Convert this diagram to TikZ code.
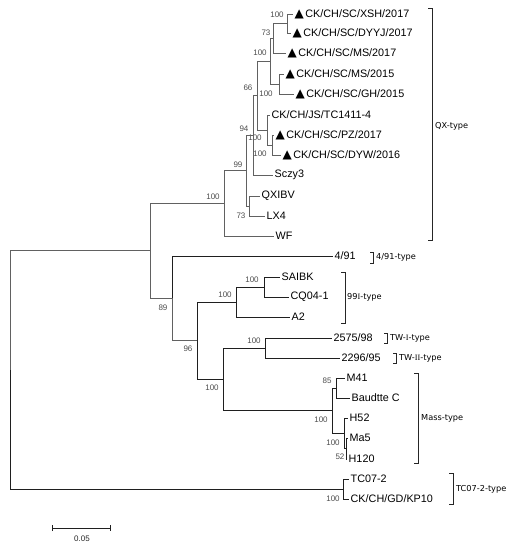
\documentclass[tikz,border=0pt]{standalone}
\usepackage{fontspec}
\setmainfont{Liberation Sans}
\newfontfamily\symfont{DejaVu Sans}
\newfontfamily\romfont{Liberation Serif}
\usetikzlibrary{arrows.meta}
\newcommand{\tri}{{\symfont\fontsize{12}{12}\selectfont ▲}\hspace{1.5pt}}
\tikzset{
  leaf/.style={anchor=west,inner sep=1.5pt,font=\fontsize{10.8}{12}\selectfont},
  boot/.style={inner sep=0pt,text=black!70,font=\fontsize{8}{9}\selectfont},
  clade/.style={anchor=west,inner sep=0pt,font=\symfont\fontsize{8.2}{9}\selectfont},
  lite/.style={draw=black!62,line width=1pt},
  dark/.style={draw=black!88,line width=1pt},
  bracket/.style={draw=black!85,line width=1pt},
}
\begin{document}
\begin{tikzpicture}[x=1pt,y=-1pt]
  \useasboundingbox (0,0) rectangle (514,550);
  \draw
    (293,14) node[leaf] (xsh){\tri CK/CH/SC/XSH/2017}
    (291,33) node[leaf] (dyyj){\tri CK/CH/SC/DYYJ/2017}
    (286,53) node[leaf] (ms17){\tri CK/CH/SC/MS/2017}
    (284,74) node[leaf] (ms15){\tri CK/CH/SC/MS/2015}
    (294,94) node[leaf] (gh15){\tri CK/CH/SC/GH/2015}
    (270,115) node[leaf] (tc1411){CK/CH/JS/TC1411-4}
    (274,135) node[leaf] (pz){\tri CK/CH/SC/PZ/2017}
    (281,155) node[leaf] (dyw){\tri CK/CH/SC/DYW/2016}
    (273,175) node[leaf] (sczy){Sczy3}
    (260,196) node[leaf] (qxibv){QXIBV}
    (265,216) node[leaf] (lx4){LX4}
    (274,236) node[leaf] (wf){WF}
    (333,256) node[leaf] (f491){4/91}
    (280,277) node[leaf] (saibk){SAIBK}
    (289,297) node[leaf] (cq){CQ04-1}
    (290,317) node[leaf] (a2){A2}
    (332,338) node[leaf] (t2575){2575/98}
    (340,358) node[leaf] (t2296){2296/95}
    (345,378) node[leaf] (m41){M41}
    (350,398) node[leaf] (baud){Baudtte C}
    (348,418) node[leaf] (h52){H52}
    (348,438) node[leaf] (ma5){Ma5}
    (347,459) node[leaf] (h120){H120}
    (349,479) node[leaf] (tc07){TC07-2}
    (349,499) node[leaf] (kp10){CK/CH/GD/KP10};
  \path
    (287,23.5) coordinate (a)
    (273,38.25) coordinate (b)
    (270,61.1) coordinate (c)
    (279,84) coordinate (d)
    (257,95.5) coordinate (e)
    (267,130) coordinate (f)
    (272,145) coordinate (g)
    (253,135.25) coordinate (h)
    (246,170.5) coordinate (i)
    (249,206) coordinate (j)
    (224,203) coordinate (k)
    (150,250.5) coordinate (l)
    (172,298) coordinate (m)
    (197,340.5) coordinate (n)
    (236,302) coordinate (o)
    (223,379) coordinate (p)
    (264,287) coordinate (q)
    (265,348) coordinate (r)
    (332,410.5) coordinate (s)
    (336,388) coordinate (t)
    (344,433) coordinate (u)
    (346,448.5) coordinate (v)
    (343,489) coordinate (w)
    (10,370) coordinate (root);
  \path
    (277,15) node[boot] (bs1){100}
    (266,33) node[boot] (bs2){73}
    (260,53) node[boot] (bs3){100}
    (266,94) node[boot] (bs4){100}
    (248,88) node[boot] (bs5){66}
    (244,129) node[boot] (bs6){94}
    (255,138) node[boot] (bs7){100}
    (260,154) node[boot] (bs8){100}
    (238,165) node[boot] (bs9){99}
    (213,197) node[boot] (bs10){100}
    (241,216) node[boot] (bs11){73}
    (163,308) node[boot] (bs12){89}
    (252,280) node[boot] (bs13){100}
    (225,295) node[boot] (bs14){100}
    (188,349) node[boot] (bs15){96}
    (212,388) node[boot] (bs16){100}
    (254,341) node[boot] (bs17){100}
    (327,381) node[boot] (bs18){85}
    (321,420) node[boot] (bs19){100}
    (333,443) node[boot] (bs20){100}
    (340,457) node[boot] (bs21){52}
    (333,499) node[boot] (bs22){100};
  \begin{scope}[lite]
    \draw (a) |- (xsh);
    \draw (a) |- (dyyj);
    \draw (b) |- (a);
    \draw (b) |- (ms17);
    \draw (d) |- (ms15);
    \draw (d) |- (gh15);
    \draw (c) |- (b);
    \draw (c) |- (d);
    \draw (g) |- (pz);
    \draw (g) |- (dyw);
    \draw (f) |- (tc1411);
    \draw (f) |- (g);
    \draw (e) |- (c);
    \draw (e) |- (f);
    \draw (h) |- (e);
    \draw (h) |- (sczy);
    \draw (j) |- (qxibv);
    \draw (j) |- (lx4);
    \draw (i) |- (h);
    \draw (i) |- (j);
    \draw (k) |- (i);
    \draw (k) |- (wf);
    \draw (l) |- (k);
    \draw (l) |- (m);
    \draw (root) |- (l);
    \draw (m) |- (n);
  \end{scope}
  \begin{scope}[dark]
    \draw (m) |- (f491);
    \draw (q) |- (saibk);
    \draw (q) |- (cq);
    \draw (o) |- (q);
    \draw (o) |- (a2);
    \draw (r) |- (t2575);
    \draw (r) |- (t2296);
    \draw (t) |- (m41);
    \draw (t) |- (baud);
    \draw (v) |- (ma5);
    \draw (v) |- (h120);
    \draw (u) |- (h52);
    \draw (u) |- (v);
    \draw (s) |- (t);
    \draw (s) |- (u);
    \draw (p) |- (r);
    \draw (p) |- (s);
    \draw (n) |- (o);
    \draw (n) |- (p);
    \draw (w) |- (tc07);
    \draw (w) |- (kp10);
    \draw (root) |- (w);
  \end{scope}
  \draw[bracket] (428,8) -- (432,8) -- (432,240) -- (428,240);
  \draw[bracket] (370,252) -- (373,252) -- (373,263) -- (370,263);
  \draw[bracket] (341,272) -- (345,272) -- (345,323) -- (341,323);
  \draw[bracket] (384,333) -- (387,333) -- (387,343) -- (384,343);
  \draw[bracket] (393,353) -- (396,353) -- (396,363) -- (393,363);
  \draw[bracket] (414,373) -- (418,373) -- (418,463) -- (414,463);
  \draw[bracket] (449,473) -- (453,473) -- (453,504) -- (449,504);
  \path
    (435,126) node[clade] (qx){QX-type}
    (376,257) node[clade] (t491){4/91-type}
    (347,297) node[clade] (t99){99{\romfont I}-type}
    (390,338) node[clade] (twi){TW-{\romfont I}-type}
    (399,358) node[clade] (twii){TW-{\romfont II}-type}
    (421,418) node[clade] (mass){Mass-type}
    (456,489) node[clade] (tc072){TC07-2-type};
  \draw[dark,{Bar[width=6pt]}-{Bar[width=6pt]}] (52,528) coordinate (sb0) -- (111,528) coordinate (sb1);
  \path (82,539) node[boot,text=black!85] (sblab){0.05};
\end{tikzpicture}
\end{document}
